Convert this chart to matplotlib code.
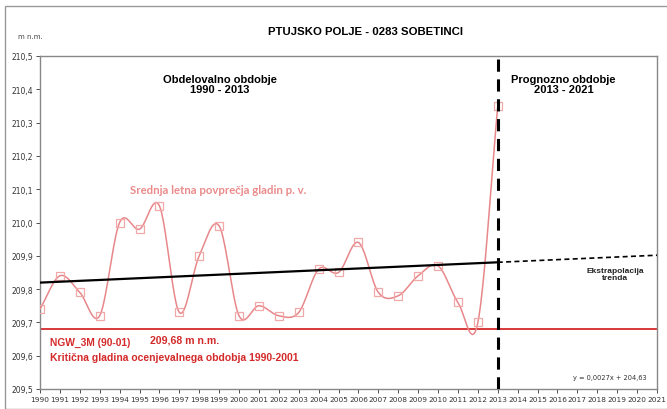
import numpy as np
import matplotlib
matplotlib.use("Agg")
import matplotlib.pyplot as plt
from matplotlib.patches import Rectangle
from matplotlib.ticker import FuncFormatter

years = list(range(1990, 2014))
levels = [209.74, 209.84, 209.79, 209.72, 210.00, 209.98, 210.05, 209.73, 209.90, 209.99,
          209.72, 209.75, 209.72, 209.73, 209.86, 209.85, 209.94, 209.79, 209.78, 209.84,
          209.87, 209.76, 209.70, 210.35]
critical_level = 209.68
tick_years = list(range(1990, 2022))

def catmull_rom(x, y, n=20):
    x = np.asarray(x, float); y = np.asarray(y, float)
    px = np.concatenate([[2*x[0]-x[1]], x, [2*x[-1]-x[-2]]])
    py = np.concatenate([[2*y[0]-y[1]], y, [2*y[-1]-y[-2]]])
    xs, ys = [], []
    t = np.linspace(0, 1, n, endpoint=False)
    for i in range(1, len(px)-2):
        f = lambda a0, a1, a2, a3: 0.5*((2*a1) + (-a0+a2)*t + (2*a0-5*a1+4*a2-a3)*t**2 + (-a0+3*a1-3*a2+a3)*t**3)
        xs.append(f(px[i-1], px[i], px[i+1], px[i+2])); ys.append(f(py[i-1], py[i], py[i+1], py[i+2]))
    xs.append([x[-1]]); ys.append([y[-1]])
    return np.concatenate(xs), np.concatenate(ys)

fig = plt.figure(figsize=(6.67, 4.10), dpi=100)
fig.patches.append(Rectangle((5/667, 0), 1, 1-7/410, transform=fig.transFigure,
                             fill=False, edgecolor='#999999', linewidth=1.0))
ax = fig.add_axes([40/667, 20/410, 617/667, 333/410])
ax.set_xlim(1990, 2021)
ax.set_ylim(209.5, 210.5)

pink = '#e8878a'
sx, sy = catmull_rom(years, levels)
ax.plot(sx, sy, color=pink, lw=1.1, zorder=3)
ax.plot(years, levels, ls='none', marker='s', ms=5.5, mfc='none', mec='#f0a8a8', mew=0.9, zorder=4)

# trend line from the data
b, a = np.polyfit(years, levels, 1)
xt = np.array([1990, 2013]); xe = np.array([2013, 2021])
ax.plot(xt, a + b*xt, color='black', lw=1.6, zorder=5)
ax.plot(xe, a + b*xe, color='black', lw=1.2, ls=(0, (3, 2)), zorder=5)

ax.axhline(critical_level, color='#d42a2a', lw=1.3, zorder=2)
ax.axvline(2013, color='black', lw=2.2, ls=(0, (4, 2.5)), zorder=6)

ax.set_xticks(tick_years)
ax.set_xticklabels([str(y) for y in tick_years], fontsize=5.3, color='#333333')
ax.set_yticks(np.round(np.arange(209.5, 210.51, 0.1), 1))
ax.yaxis.set_major_formatter(FuncFormatter(lambda v, p: f"{v:.1f}".replace('.', ',')))
ax.tick_params(axis='y', labelsize=5.5, colors='#333333', length=3, width=0.6, direction='out', pad=2)
ax.tick_params(axis='x', length=3, width=0.6, direction='out', pad=2, colors='#333333')
for s in ax.spines.values():
    s.set_color('#888888'); s.set_linewidth(1.0)

fig.text(366/667, 1-32/410, 'PTUJSKO POLJE - 0283 SOBETINCI', ha='center', va='center',
         fontsize=8.2, fontweight='bold', family='Liberation Sans')
fig.text(30/667, 1-37/410, 'm n.m.', ha='center', va='center', fontsize=5, color='#444444')
ax.text(1999.05, 210.417, 'Obdelovalno obdobje\n1990 - 2013', ha='center', va='center',
        fontsize=8, fontweight='bold', family='Liberation Sans', linespacing=1.0)
ax.text(2016.3, 210.417, 'Prognozno obdobje\n2013 - 2021', ha='center', va='center',
        fontsize=8, fontweight='bold', family='Liberation Sans', linespacing=1.0)
ax.text(1994.5, 210.1, 'Srednja letna povprečja gladin p. v.', ha='left', va='center',
        fontsize=8.2, fontweight='bold', color='#eb8a8a', family='Lato')
ax.text(2018.9, 209.845, 'Ekstrapolacija\ntrenda', ha='center', va='center',
        fontsize=6.0, fontweight='bold', color='#222222', family='Liberation Sans', linespacing=1.05)
ax.text(1990.5, 209.641, 'NGW_3M (90-01)', ha='left', va='center', fontsize=7.4,
        fontweight='bold', color='#d42a2a', family='Liberation Sans')
ax.text(1995.55, 209.65, '209,68 m n.m.', ha='left', va='center', fontsize=7.6,
        fontweight='bold', color='#d42a2a', family='Liberation Sans')
ax.text(1990.5, 209.596, 'Kritična gladina ocenjevalnega obdobja 1990-2001', ha='left', va='center',
        fontsize=7.5, fontweight='bold', color='#d42a2a', family='Liberation Sans')
ax.text(2020.5, 209.535, 'y = 0,0027x + 204,63', ha='right', va='center', fontsize=4.8,
        color='#333333')

fig.savefig('out.png', dpi=100)
